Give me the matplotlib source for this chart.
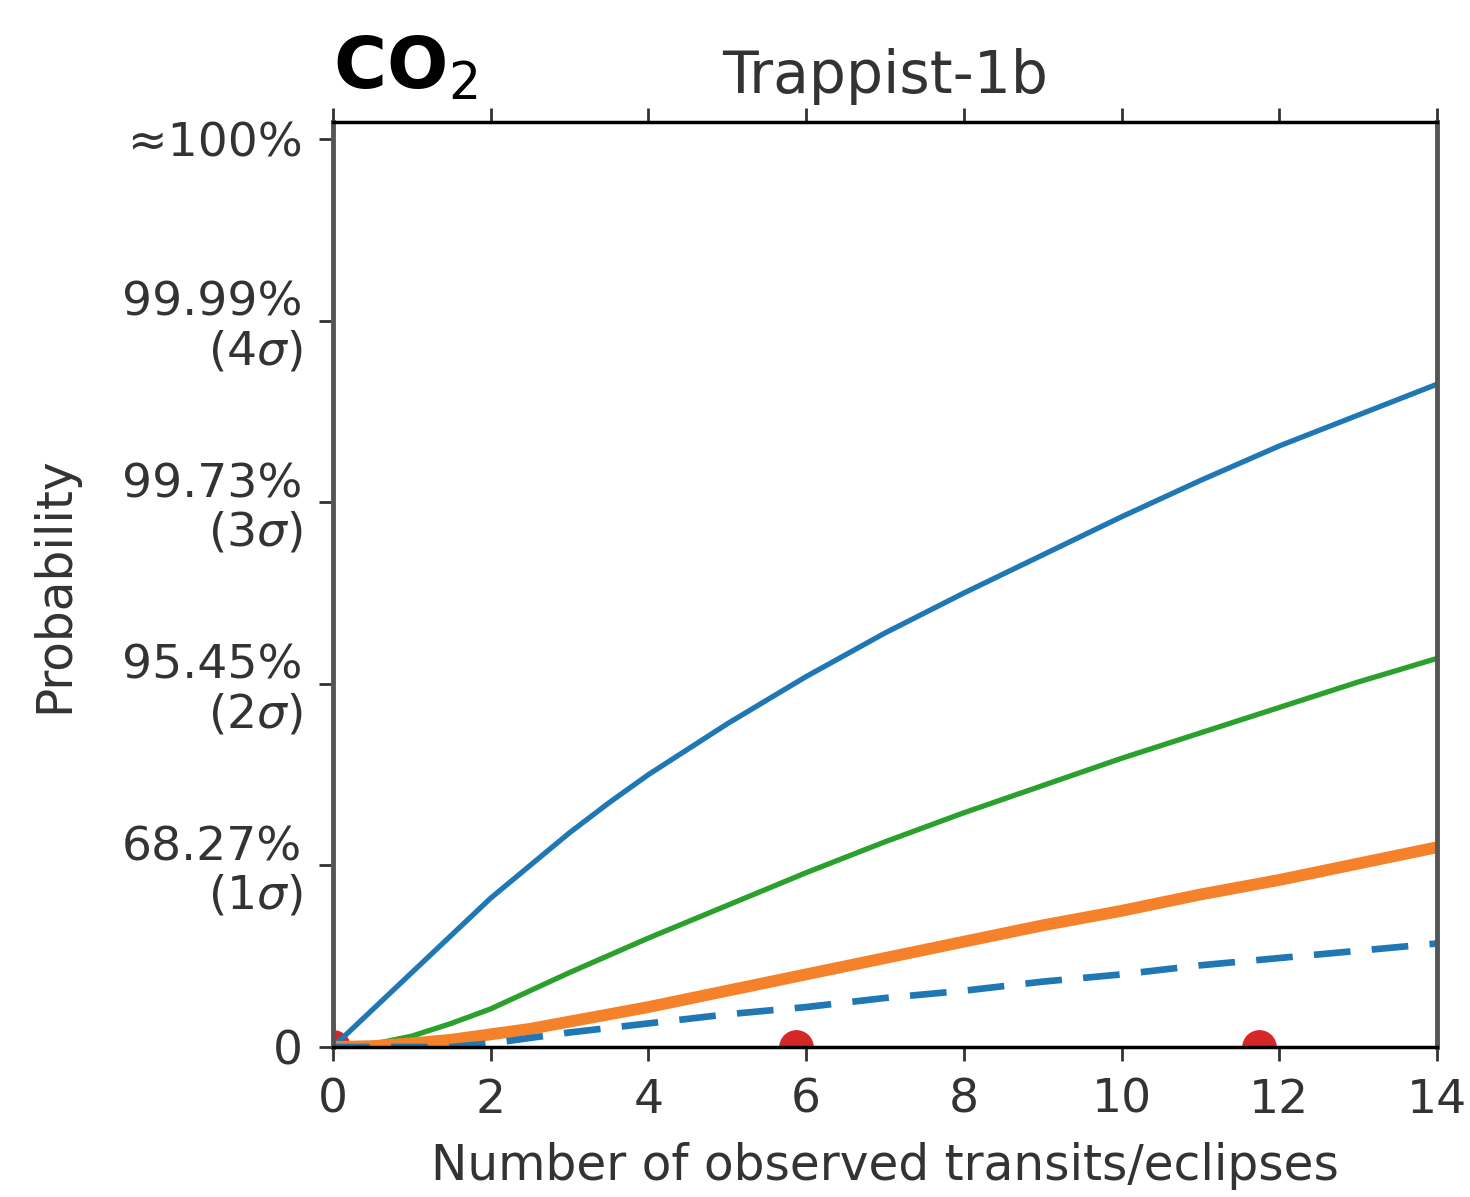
import matplotlib
matplotlib.use("Agg")
import matplotlib.pyplot as plt

# ---- data ----
x_obs = [0, 0.5, 1, 1.5, 2, 2.5, 3, 3.5, 4, 5, 6, 7, 8, 9, 10, 11, 12, 13, 14]
blue_solid = [0, 0.205, 0.41, 0.615, 0.82, 1.00, 1.18, 1.345, 1.50, 1.78, 2.04, 2.28, 2.50, 2.71, 2.92, 3.12, 3.31, 3.48, 3.65]
green = [0, 0.015, 0.06, 0.13, 0.21, 0.31, 0.41, 0.505, 0.60, 0.78, 0.96, 1.13, 1.29, 1.44, 1.59, 1.73, 1.87, 2.01, 2.14]
orange = [0, 0.005, 0.02, 0.04, 0.07, 0.10, 0.14, 0.18, 0.22, 0.31, 0.40, 0.49, 0.58, 0.67, 0.75, 0.84, 0.92, 1.01, 1.10]
blue_dashed = [0, 0, 0, 0, 0.02, 0.05, 0.08, 0.105, 0.13, 0.18, 0.22, 0.27, 0.31, 0.36, 0.40, 0.45, 0.49, 0.53, 0.57]
red_x = [0, 5.87, 11.74]
red_y = [0, 0, 0]

ytick_vals = [0, 1, 2, 3, 4, 5]
ytick_labels = ["0",
                "68.27%\n$(1\\sigma)$",
                "95.45%\n$(2\\sigma)$",
                "99.73%\n$(3\\sigma)$",
                "99.99%\n$(4\\sigma)$",
                "\u2248100%"]
xtick_vals = [0, 2, 4, 6, 8, 10, 12, 14]

plt.rcParams['font.family'] = ['DejaVu Sans']
plt.rcParams['mathtext.fontset'] = 'dejavusans'

fig = plt.figure(figsize=(14.7, 11.97), dpi=100)
ax = fig.add_axes([0.2265, 0.1253, 0.7511, 0.7728])

ax.plot(x_obs, blue_solid, color='#1f77b4', lw=3.8)
ax.plot(x_obs, green, color='#2ca02c', lw=3.8)
ax.plot(x_obs, orange, color='#f5812a', lw=8.5)
ax.plot(x_obs, blue_dashed, color='#1f77b4', lw=4.8, dashes=(5.5, 3.2))
ax.plot(red_x, red_y, 'o', color='#d62728', ms=24, clip_on=True, zorder=1)

ax.set_xlim(0, 14)
ax.set_ylim(0, 5.094)
ax.set_xticks(xtick_vals)
ax.set_yticks(ytick_vals)
ax.set_yticklabels(ytick_labels)

tc = '#333333'
ax.tick_params(axis='x', which='both', top=True, bottom=True, direction='out',
               length=10, width=2, labelsize=34, colors=tc, pad=12)
ax.tick_params(axis='y', direction='out', length=10, width=2, labelsize=34,
               colors=tc, pad=12)
for lab in ax.get_yticklabels():
    lab.set_linespacing(1.1)

for side in ['top', 'bottom']:
    ax.spines[side].set_color('black')
    ax.spines[side].set_linewidth(2.5)
for side in ['left', 'right']:
    ax.spines[side].set_color('#555555')
    ax.spines[side].set_linewidth(3.5)

ax.set_xlabel('Number of observed transits/eclipses', fontsize=35, color=tc, labelpad=14)
ax.set_ylabel('Probability', fontsize=35, color=tc)
ax.yaxis.set_label_coords(-0.231, 0.5)
ax.set_title('Trappist-1b', fontsize=42, color=tc, pad=21)
fig.text(0.2265, 0.9265, 'CO$_2$', fontsize=52, fontweight='bold',
         color='black', ha='left', va='baseline')

fig.savefig('out.png', dpi=100, facecolor='white')
